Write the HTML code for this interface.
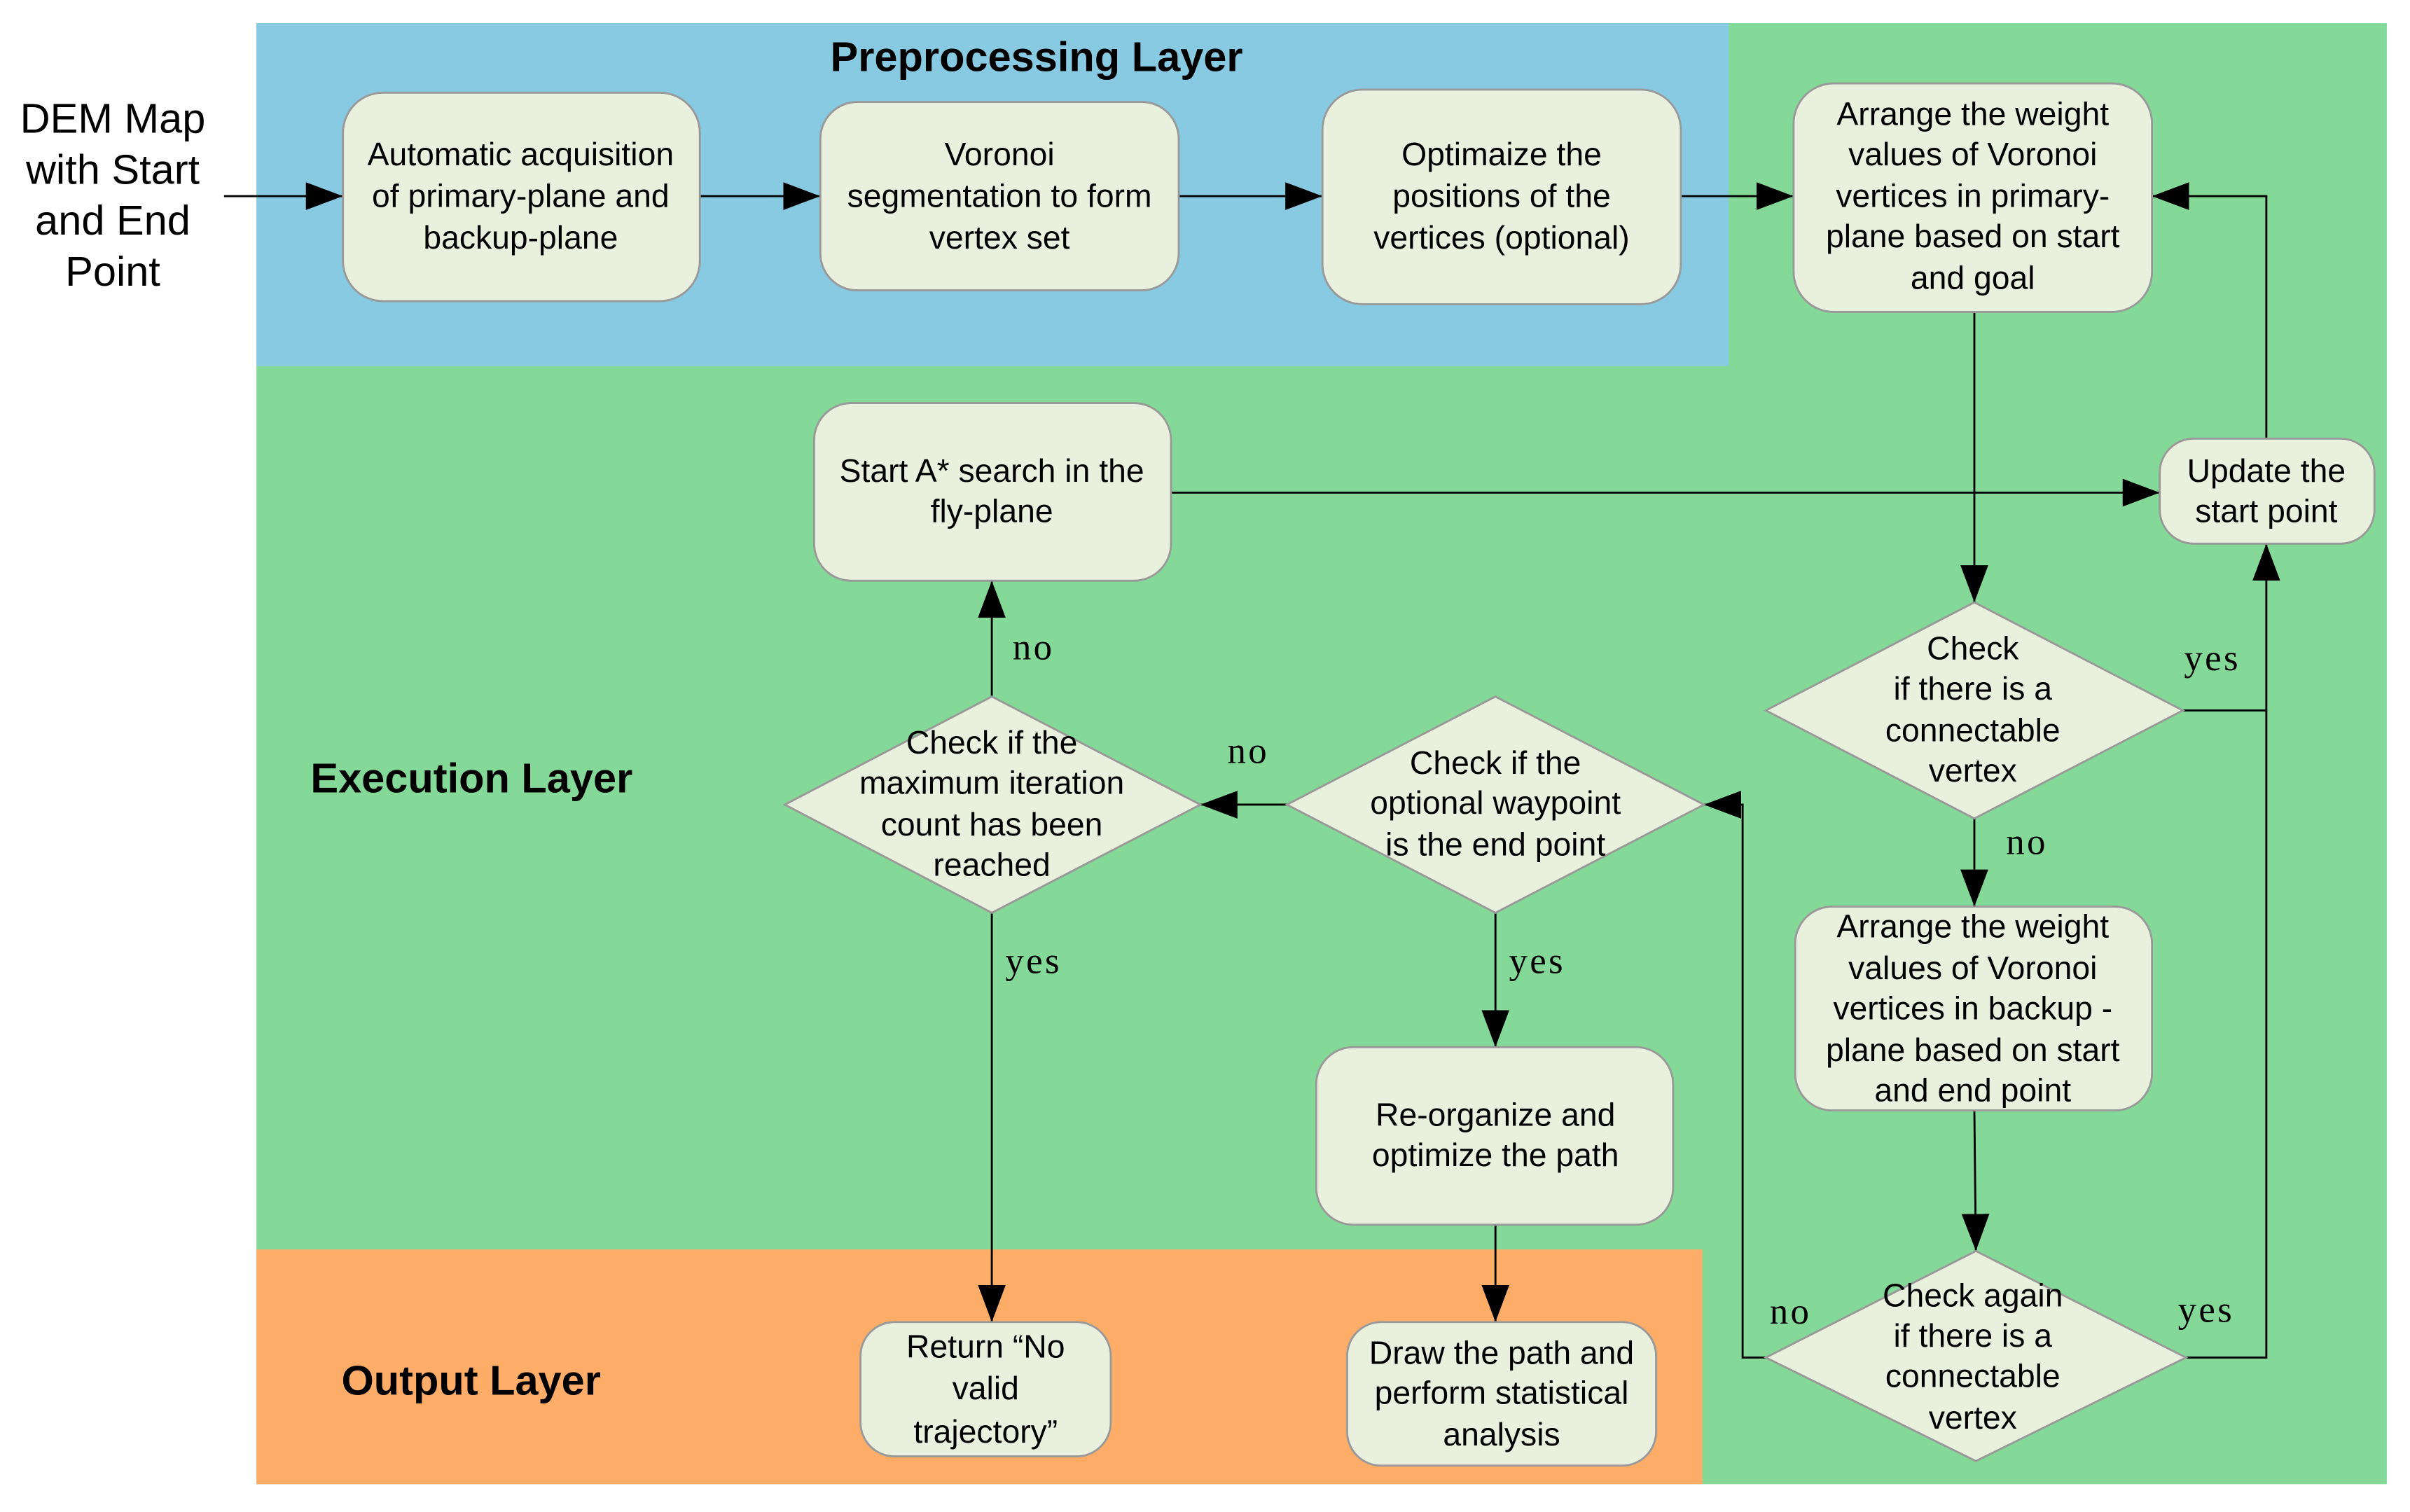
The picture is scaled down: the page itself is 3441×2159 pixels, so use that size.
<!DOCTYPE html>
<html><head><meta charset="utf-8"><style>html,body{margin:0;padding:0;background:#fff}svg{display:block}</style></head>
<body>
<svg width="3441" height="2159" viewBox="0 0 1560 979" preserveAspectRatio="none" xmlns="http://www.w3.org/2000/svg">
<defs>
<marker id="a" markerWidth="24" markerHeight="18" refX="24" refY="9" orient="auto" markerUnits="userSpaceOnUse">
<path d="M0,0 L24,9 L0,18 Z" fill="#000"/></marker>
</defs>
<rect x="0" y="0" width="1560" height="979" fill="#fff"/>
<rect x="166" y="15" width="1379" height="946" fill="#85d998"/>
<rect x="166" y="15" width="953" height="222" fill="#89cae3"/>
<rect x="166" y="809" width="936" height="152" fill="#fead69"/>

<g font-family="Liberation Sans, Arial, sans-serif" font-weight="bold" font-size="27" fill="#000">
<text x="671" y="46" text-anchor="middle">Preprocessing Layer</text>
<text x="201" y="513">Execution Layer</text>
<text x="221" y="903">Output Layer</text>
</g>

<g fill="none" stroke="#000" stroke-width="1.3">
<line x1="145" y1="127" x2="222" y2="127" marker-end="url(#a)"/>
<line x1="453" y1="127" x2="531" y2="127" marker-end="url(#a)"/>
<line x1="763" y1="127" x2="856" y2="127" marker-end="url(#a)"/>
<line x1="1088" y1="127" x2="1161" y2="127" marker-end="url(#a)"/>
<line x1="1278" y1="202" x2="1278" y2="390" marker-end="url(#a)"/>
<polyline points="1413,460 1467,460 1467,352" marker-end="url(#a)"/>
<polyline points="1467,284 1467,127 1393,127" marker-end="url(#a)"/>
<line x1="758" y1="319" x2="1398" y2="319" marker-end="url(#a)"/>
<line x1="1278" y1="530" x2="1278" y2="587" marker-end="url(#a)"/>
<line x1="1278" y1="719" x2="1279" y2="810" marker-end="url(#a)"/>
<polyline points="1415,879 1467,879 1467,460"/>
<polyline points="1143,879 1128,879 1128,521 1103,521" marker-end="url(#a)"/>
<line x1="833" y1="521" x2="777" y2="521" marker-end="url(#a)"/>
<line x1="968" y1="591" x2="968" y2="678" marker-end="url(#a)"/>
<line x1="968" y1="793" x2="968" y2="856" marker-end="url(#a)"/>
<line x1="642" y1="451" x2="642" y2="376" marker-end="url(#a)"/>
<line x1="642" y1="591" x2="642" y2="856" marker-end="url(#a)"/>
</g>

<g fill="#e9f0dd" stroke="#999" stroke-width="1.3">
<rect x="222" y="60" width="231" height="135" rx="26"/>
<rect x="531" y="66" width="232" height="122" rx="24"/>
<rect x="856" y="58" width="232" height="139" rx="26"/>
<rect x="1161" y="54" width="232" height="148" rx="26"/>
<rect x="1398" y="284" width="139" height="68" rx="22"/>
<rect x="527" y="261" width="231" height="115" rx="24"/>
<rect x="1162" y="587" width="231" height="132" rx="24"/>
<rect x="852" y="678" width="231" height="115" rx="24"/>
<rect x="557" y="856" width="162" height="87" rx="22"/>
<rect x="872" y="856" width="200" height="93" rx="22"/>
<polygon points="1278,390 1413,460 1278,530 1143,460"/>
<polygon points="968,451 1103,521 968,591 833,521"/>
<polygon points="642,451 777,521 642,591 508,521"/>
<polygon points="1279,810 1415,879 1279,946 1143,879"/>
</g>

<g font-family="Liberation Sans, Arial, sans-serif" font-size="21" fill="#000" text-anchor="middle">
<g font-size="27"><text x="73" y="86">DEM Map</text><text x="73" y="119">with Start</text><text x="73" y="152">and End</text><text x="73" y="185">Point</text></g>
<text x="337" y="107">Automatic acquisition</text><text x="337" y="134">of primary-plane and</text><text x="337" y="161">backup-plane</text>
<text x="647" y="107">Voronoi</text><text x="647" y="134">segmentation to form</text><text x="647" y="161">vertex set</text>
<text x="972" y="107">Optimaize the</text><text x="972" y="134">positions of the</text><text x="972" y="161">vertices (optional)</text>
<text x="1277" y="81">Arrange the weight</text><text x="1277" y="107">values of Voronoi</text><text x="1277" y="134">vertices in primary-</text><text x="1277" y="160">plane based on start</text><text x="1277" y="187">and goal</text>
<text x="1467" y="312">Update the</text><text x="1467" y="338">start point</text>
<text x="642" y="312">Start A* search in the</text><text x="642" y="338">fly-plane</text>
<text x="1277" y="427">Check</text><text x="1277" y="453">if there is a</text><text x="1277" y="480">connectable</text><text x="1277" y="506">vertex</text>
<text x="968" y="501">Check if the</text><text x="968" y="527">optional waypoint</text><text x="968" y="554">is the end point</text>
<text x="642" y="488">Check if the</text><text x="642" y="514">maximum iteration</text><text x="642" y="541">count has been</text><text x="642" y="567">reached</text>
<text x="1277" y="607">Arrange the weight</text><text x="1277" y="634">values of Voronoi</text><text x="1277" y="660">vertices in backup -</text><text x="1277" y="687">plane based on start</text><text x="1277" y="713">and end point</text>
<text x="968" y="729">Re-organize and</text><text x="968" y="755">optimize the path</text>
<text x="1277" y="846">Check again</text><text x="1277" y="872">if there is a</text><text x="1277" y="898">connectable</text><text x="1277" y="925">vertex</text>
<text x="638" y="879">Return “No</text><text x="638" y="906">valid</text><text x="638" y="934">trajectory”</text>
<text x="972" y="883">Draw the path and</text><text x="972" y="909">perform statistical</text><text x="972" y="936">analysis</text>
</g>

<g font-family="Liberation Serif, serif" font-size="24" fill="#000" text-anchor="middle" letter-spacing="1.5">
<text x="1432" y="434">yes</text>
<text x="1312" y="553">no</text>
<text x="1428" y="856">yes</text>
<text x="1159" y="857">no</text>
<text x="808" y="494">no</text>
<text x="995" y="630">yes</text>
<text x="669" y="427">no</text>
<text x="669" y="630">yes</text>
</g>
</svg>
</body></html>
